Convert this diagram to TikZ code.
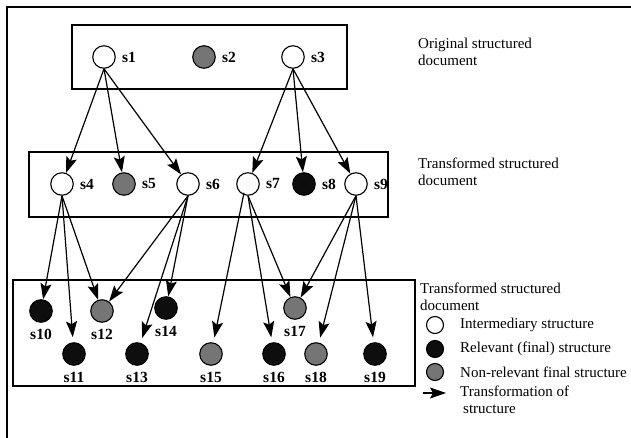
\documentclass[tikz,border=0pt]{standalone}
\usepackage{fontspec}
\setmainfont{Liberation Serif}
\usetikzlibrary{arrows.meta}
\definecolor{nonrel}{HTML}{757575}
\definecolor{rel}{HTML}{0E0E0E}
\tikzset{
  st/.style={circle, draw=black, line width=1.1pt, minimum size=22.5pt, inner sep=0pt},
  inter/.style={st, fill=white},
  relev/.style={st, fill=rel},
  nonrelev/.style={st, fill=nonrel},
  lbl/.style={font=\fontsize{15.5}{17}\selectfont\bfseries, inner sep=0pt},
  txt/.style={font=\fontsize{15}{17}\selectfont, inner sep=0pt, align=left},
  trans/.style={line width=1.2pt, -{Stealth[length=16pt,width=11pt,inset=3pt]}},
  far/.style={trans, shorten >=5pt},
  frame/.style={line width=1.4pt},
  lgd/.style={circle, draw=black, line width=1.1pt, minimum size=17pt, inner sep=0pt},
}
\begin{document}
\begin{tikzpicture}[x=1pt,y=-1pt]
\useasboundingbox (0,0) rectangle (631,438);
\fill[white] (0,0) rectangle (631,438);

% outer frame (top and left sides)
\draw[frame] (631,7) -- (7,7) -- (7,438);

% document boxes
\draw[frame] (72,25) rectangle (347,89);
\draw[frame] (29,152) rectangle (388,217);
\draw[frame] (13,280) rectangle (415,386);

% original structured document
\node[inter]    (s1) at (104,57) [label={[lbl,label distance=6pt]right:s1}] {};
\node[nonrelev] (s2) at (204,57) [label={[lbl,label distance=6pt]right:s2}] {};
\node[inter]    (s3) at (293,57) [label={[lbl,label distance=6pt]right:s3}] {};

% first transformation
\node[inter]    (s4) at (62,184)  [label={[lbl,label distance=6pt]right:s4}] {};
\node[nonrelev] (s5) at (124,184) [label={[lbl,label distance=6pt]right:s5}] {};
\node[inter]    (s6) at (188,184) [label={[lbl,label distance=6pt]right:s6}] {};
\node[inter]    (s7) at (248,184) [label={[lbl,label distance=6pt]right:s7}] {};
\node[relev]    (s8) at (304,184) [label={[lbl,label distance=6pt]right:s8}] {};
\node[inter]    (s9) at (356,184) [label={[lbl,label distance=6pt]right:s9}] {};

% second transformation: final structures
\node[relev]    (s10) at (41,311)  [label={[lbl,label distance=6pt]below:s10}] {};
\node[nonrelev] (s12) at (102,311) [label={[lbl,label distance=6pt]below:s12}] {};
\node[relev]    (s14) at (166,308) [label={[lbl,label distance=6pt]below:s14}] {};
\node[nonrelev] (s17) at (295,308) [label={[lbl,label distance=6pt]below:s17}] {};
\node[relev]    (s11) at (74,354)  [label={[lbl,label distance=6pt]below:s11}] {};
\node[relev]    (s13) at (137,354) [label={[lbl,label distance=6pt]below:s13}] {};
\node[nonrelev] (s15) at (211,354) [label={[lbl,label distance=6pt]below:s15}] {};
\node[relev]    (s16) at (274,354) [label={[lbl,label distance=6pt]below:s16}] {};
\node[nonrelev] (s18) at (316,354) [label={[lbl,label distance=6pt]below:s18}] {};
\node[relev]    (s19) at (375,354) [label={[lbl,label distance=6pt]below:s19}] {};

% transformations
\draw[trans] (s1.south) -- (s4);
\draw[trans] (s1.south) -- (s5);
\draw[trans] (s1.south) -- (s6);
\draw[trans] (s3.south) -- (s7);
\draw[trans] (s3.south) -- (s8);
\draw[trans] (s3.south) -- (s9);

\draw[trans] (s4.south) -- (s10);
\draw[far]   (s4.south) -- (s11);
\draw[trans] (s4.south) -- (s12);
\draw[trans] (s6.south) -- (s12);
\draw[far]   (s6.south) -- (s13);
\draw[trans] (s6.south) -- (s14);
\draw[far]   ([xshift=-4pt,yshift=3pt]s7.south) -- (s15);
\draw[far]   (s7.south) -- (s16);
\draw[trans] (s7.south) -- (s17);
\draw[trans] (s9.south) -- (s17);
\draw[far]   (s9.south) -- (s18);
\draw[far]   (s9.south) -- (s19);

% captions
\node[txt, anchor=west] (c1) at (418,52)  {Original structured\\document};
\node[txt, anchor=west] (c2) at (418,172) {Transformed structured\\document};
\node[txt, anchor=west] (c3) at (420,297) {Transformed structured\\document};

% legend
\node[lgd, fill=white]  (k1) at (435,325) {};
\node[lgd, fill=rel]    (k2) at (435,349) {};
\node[lgd, fill=nonrel] (k3) at (435,372) {};
\coordinate (k4a) at (423,393);
\coordinate (k4b) at (446,393);
\draw[trans] (k4a) -- (k4b);
\node[txt, anchor=west] (t1) at (460,325) {Intermediary structure};
\node[txt, anchor=west] (t2) at (460,349) {Relevant (final) structure};
\node[txt, anchor=west] (t3) at (460,372) {Non-relevant final structure};
\node[txt, anchor=north west] (t4) at (460,386) {Transformation of\\\hspace*{3pt}structure};
\end{tikzpicture}
\end{document}
